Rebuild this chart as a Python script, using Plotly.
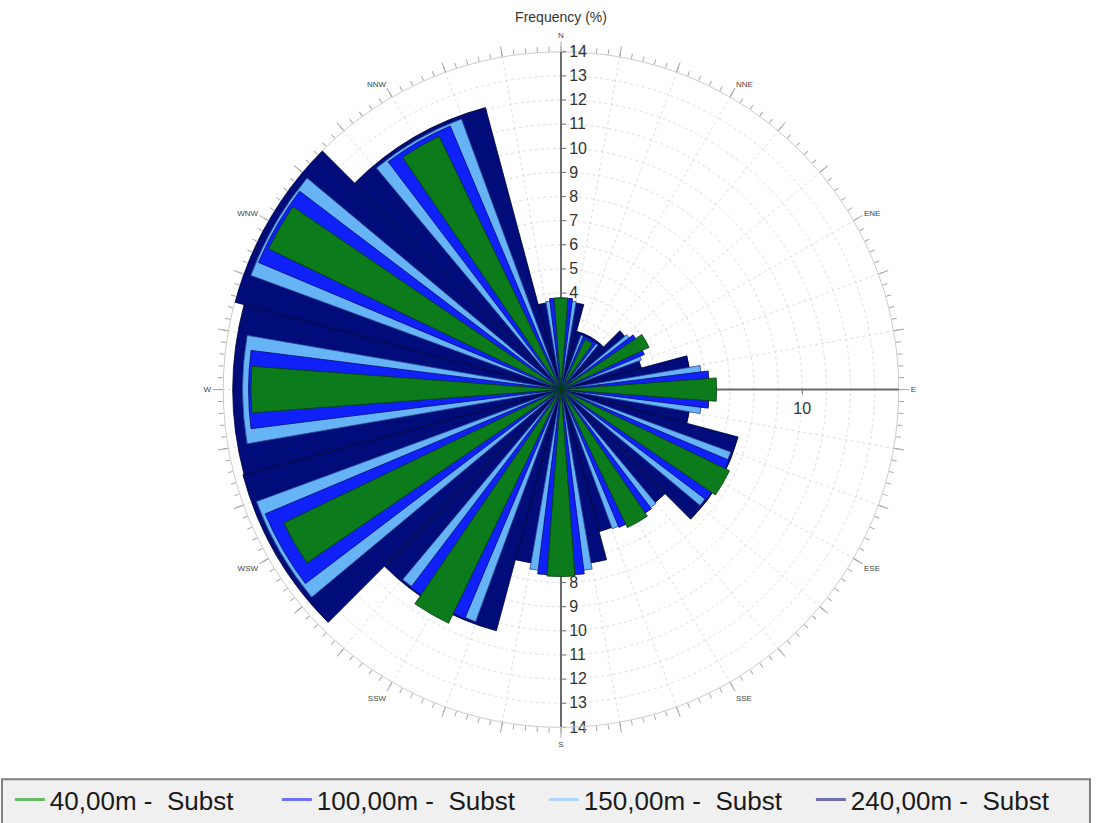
import plotly.graph_objects as go

# ---------------- data ----------------
directions = ["N", "NNE", "ENE", "E", "ESE", "SSE", "S", "SSW", "WSW", "W", "WNW", "NNW"]
sector_deg = [0, 30, 60, 90, 120, 150, 180, 210, 240, 270, 300, 330]

series_names = ["40,00m -  Subst", "100,00m -  Subst", "150,00m -  Subst", "240,00m -  Subst"]
freq_40m = [3.8, 2.3, 4.05, 6.45, 7.75, 6.35, 7.75, 10.75, 12.75, 12.85, 13.45, 11.65]
freq_100m = [3.8, 2.4, 3.75, 6.15, 7.55, 6.2, 7.7, 10.3, 13.3, 12.95, 13.6, 11.85]
freq_150m = [3.7, 2.4, 3.55, 5.85, 7.5, 6.15, 7.55, 10.25, 13.45, 13.2, 13.7, 11.95]
freq_240m = [3.65, 2.5, 3.45, 5.4, 7.6, 6.1, 7.3, 10.35, 13.65, 13.6, 14.0, 12.1]

radial_ticks = list(range(1, 15))
e_axis_ticks = [10]

# ---------------- styles ----------------
bar_colors = ["#0b7b1c", "#1020f8", "#66b4f6", "#000c7a"]
legend_colors = ["#66bb66", "#7070ff", "#b0d8ff", "#6e6eb0"]
bar_widths = [8.6, 14.4, 19.6, 30.0]
edge_colors = ["#033d0a", "#050a70", "#2a4a90", "#000630"]

series_vals = [freq_40m, freq_100m, freq_150m, freq_240m]

fig = go.Figure()

# invisible anchors so the helper subplots are drawn
fig.add_trace(go.Scatterpolar(r=[None], theta=[None], mode="lines", showlegend=False,
                              hoverinfo="skip", subplot="polar"))
fig.add_trace(go.Scatterpolar(r=[None], theta=[None], mode="lines", showlegend=False,
                              hoverinfo="skip", subplot="polar2"))

# bars: widest (240m) at bottom, narrowest (40m) on top
for i in [3, 2, 1, 0]:
    fig.add_trace(go.Barpolar(
        r=series_vals[i], theta=sector_deg, width=[bar_widths[i]] * len(sector_deg),
        marker=dict(color=bar_colors[i], line=dict(color=edge_colors[i], width=0.8)),
        name=series_names[i], showlegend=False, subplot="polar3",
        hoverinfo="r+theta"))

# legend entries (line symbols)
for i in range(4):
    fig.add_trace(go.Scatterpolar(
        r=[None], theta=[None], mode="lines", name=series_names[i],
        line=dict(color=legend_colors[i], width=3), subplot="polar3"))

dom = dict(x=[0.20237, 0.82042], y=[0.11300, 0.93682])
grid_col = "#dedede"
axis_col = "#6a6a6a"
tick_col = "#a8a8a8"

angular_tick_vals = list(range(0, 360, 10))
angular_tick_text = [directions[sector_deg.index(v)] if v in sector_deg else "" for v in angular_tick_vals]

fig.update_layout(
    width=1097, height=823,
    margin=dict(l=0, r=0, t=0, b=0),
    paper_bgcolor="white",
    font=dict(family="Liberation Sans, Arial, sans-serif", color="#333"),
    title=dict(text="Frequency (%)", x=0.5114, xanchor="center", y=0.9787, yanchor="middle",
               font=dict(size=14, color="#333")),
    # base: grid (circles + 10 deg spokes), rim, south radial axis
    polar=dict(
        domain=dom, bgcolor="white",
        radialaxis=dict(range=[0, 14], angle=270, side="counterclockwise", tickangle=-90,
                        tickmode="array", tickvals=radial_ticks, ticks="outside", ticklen=4,
                        tickcolor=axis_col, showline=True, linecolor=axis_col, linewidth=2,
                        showgrid=True, gridcolor=grid_col, griddash="dot", gridwidth=1,
                        tickfont=dict(size=16, color="#333"), layer="below traces"),
        angularaxis=dict(direction="clockwise", rotation=90, tickmode="array",
                         tickvals=angular_tick_vals, ticks="", showticklabels=False,
                         showline=True, linecolor="#cccccc", linewidth=1,
                         showgrid=True, gridcolor=grid_col, griddash="dot", gridwidth=1),
    ),
    # east radial axis line + minor rim ticks
    polar2=dict(
        domain=dom, bgcolor="rgba(0,0,0,0)",
        radialaxis=dict(range=[0, 14], angle=0, side="clockwise", tickmode="array",
                        tickvals=e_axis_ticks, ticks="outside", ticklen=4, tickcolor=axis_col,
                        showline=True, linecolor=axis_col, linewidth=2, showgrid=False,
                        tickfont=dict(size=16, color="#333"), layer="below traces"),
        angularaxis=dict(direction="clockwise", rotation=90, tickmode="array",
                         tickvals=list(range(0, 360, 2)), ticks="outside", ticklen=5,
                         tickcolor=tick_col, showticklabels=False, showline=False,
                         showgrid=False),
    ),
    # bars with north radial axis, major rim ticks and direction labels
    polar3=dict(
        domain=dom, bgcolor="rgba(0,0,0,0)", barmode="overlay",
        radialaxis=dict(range=[0, 14], angle=90, side="clockwise", tickangle=90,
                        tickmode="array", tickvals=radial_ticks, ticks="outside", ticklen=4,
                        tickcolor=axis_col, showline=True, linecolor=axis_col, linewidth=2,
                        showgrid=False, tickfont=dict(size=16, color="#333"),
                        layer="below traces"),
        angularaxis=dict(direction="clockwise", rotation=90, tickmode="array",
                         tickvals=angular_tick_vals, ticktext=angular_tick_text,
                         ticks="outside", ticklen=10, tickcolor=tick_col,
                         tickfont=dict(size=8, color="#444"), showline=False,
                         showgrid=False),
    ),
    legend=dict(orientation="h", x=0.009, xanchor="left", y=0.0245, yanchor="middle",
                bgcolor="rgba(0,0,0,0)", borderwidth=0,
                font=dict(size=26, color="#1a1a1a", family="Liberation Sans, Arial, sans-serif"),
                entrywidth=222, traceorder="normal"),
    shapes=[dict(type="rect", xref="paper", yref="paper", x0=0.0018, x1=0.9936,
                 y0=-0.01, y1=0.0498, line=dict(color="#808080", width=2),
                 fillcolor="#f0f0f0", layer="below")],
)

fig.write_html("out.html", config={"displayModeBar": False},
               post_script="document.body.style.margin='0';")
